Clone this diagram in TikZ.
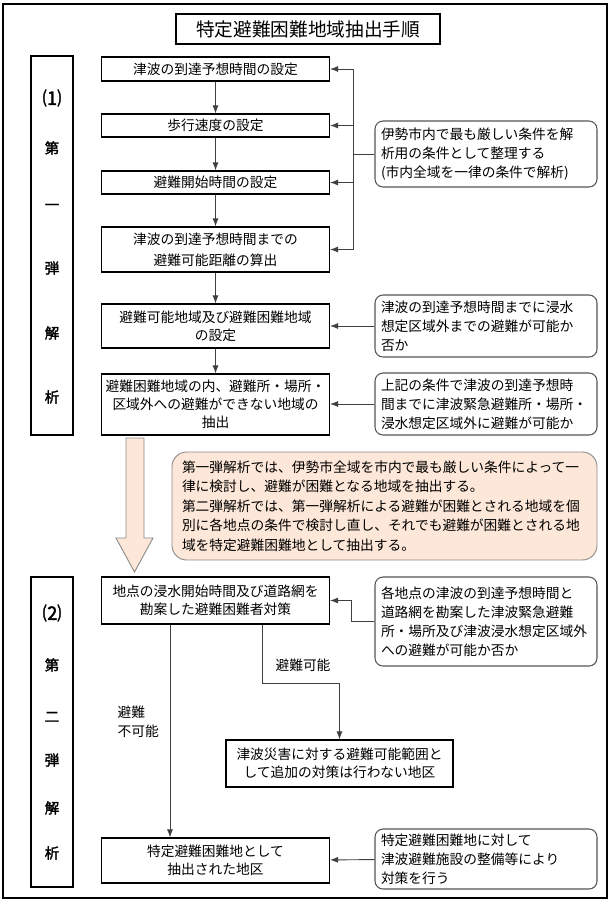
\documentclass[tikz,border=0pt]{standalone}
\usepackage{fontspec}
\setmainfont{Noto Sans CJK JP}[AutoFakeBold=2]
\usepackage{tikz}
\usetikzlibrary{calc,arrows.meta}
\definecolor{peach}{RGB}{253,231,216}
\definecolor{notegray}{RGB}{85,85,85}

\begin{document}
\begin{tikzpicture}[x=0.75pt,y=-0.75pt,
  every node/.style={font=\fontsize{10.3}{13.6}\selectfont},
  stepbox/.style={draw,line width=0.8pt,inner sep=0pt,align=center,minimum width=171pt},
  notebox/.style={draw=notegray,line width=0.8pt,rounded corners=6pt,inner xsep=4.5pt,inner ysep=0pt,
    text width=157.5pt,align=left,minimum height=#1,font=\fontsize{10.3}{14.2}\selectfont},
  phase/.style={draw,line width=0.8pt,minimum width=31.5pt,minimum height=#1},
  phaselbl/.style={font=\fontsize{10.8}{12}\selectfont\bfseries},
  phasenum/.style={font=\fontsize{14}{16}\selectfont\bfseries},
  flow/.style={draw=black!75,line width=0.7pt,-{Latex[length=6pt,width=4.5pt]}},
  link/.style={draw=black!75,line width=0.7pt}]
  \useasboundingbox (0,0) rectangle (611,900);
  \draw[line width=0.8pt] (3,4) rectangle (607,898);

  \node[draw,line width=0.8pt,minimum width=198pt,minimum height=22.5pt,font=\fontsize{14}{16}\selectfont] (ttl) at (308,29) {特定避難困難地域抽出手順};

  % first analysis
  \node[phase=284.25pt] (p1) at (52,245.5) {};
  \node[phasenum] (la0) at (52,98) {⑴};
  \foreach \t/\y [count=\i] in {第/148,一/207,弾/268,解/333,析/397}
    \node[phaselbl] (la\i) at (52,\y) {\t};

  \node[stepbox,minimum height=18pt] (b1) at (215.5,69) {津波の到達予想時間の設定};
  \node[stepbox,minimum height=17.25pt] (b2) at (215.5,125.5) {歩行速度の設定};
  \node[stepbox,minimum height=17.25pt] (b3) at (215.5,182.5) {避難開始時間の設定};
  \node[stepbox,minimum height=33.75pt] (b4) at (215.5,249.5) {津波の到達予想時間までの\\[2pt]避難可能距離の算出};
  \node[stepbox,minimum height=33pt] (b5) at (215.5,326) {避難可能地域及び避難困難地域\\の設定};
  \node[stepbox,minimum height=45.75pt] (b6) at (215.5,404.5) {避難困難地域の内、避難所・場所・\\区域外への避難ができない地域の\\抽出};

  \node[notebox=49.5pt] (c1) at (486,154) {伊勢市内で最も厳しい条件を解\\析用の条件として整理する\\(市内全域を一律の条件で解析)};
  \node[notebox=46.5pt] (c2) at (486,326) {津波の到達予想時間までに浸水\\想定区域外までの避難が可能か\\否か};
  \node[notebox=46.5pt] (c3) at (486,404) {上記の条件で津波の到達予想時\\間までに津波緊急避難所・場所・\\浸水想定区域外に避難が可能か};

  \coordinate (br) at (353,154);
  \draw[link] (c1.west) -- (br);
  \foreach \to in {b1,b2,b3,b4}
    \draw[flow] (br) |- (\to);
  \foreach \from/\to in {b1/b2,b2/b3,b3/b4,b4/b5,b5/b6}
    \draw[flow] (\from) -- (\to);
  \draw[flow] (c2) -- (b5);
  \draw[flow] (c3.west) -- (b6.east |- c3.west);

  % transition
  \draw[draw=black!45,line width=0.7pt,fill=peach] (126,438) -- (144,438) -- (144,538) -- (153,538)
    -- (134.5,572) -- (116,538) -- (126,538) -- cycle;
  \node[draw=black!45,fill=peach,line width=0.7pt,rounded corners=11pt,inner xsep=7.5pt,inner ysep=0pt,
    text width=303.75pt,align=left,minimum height=81pt,font=\fontsize{10.3}{14.6}\selectfont] (c4) at (384.5,506)
    {第一弾解析では、伊勢市全域を市内で最も厳しい条件によって一\\律に検討し、避難が困難となる地域を抽出する。\\第二弾解析では、第一弾解析による避難が困難とされる地域を個\\別に各地点の条件で検討し直し、それでも避難が困難とされる地\\域を特定避難困難地として抽出する。};

  % second analysis
  \node[phase=232.5pt] (p2) at (52,732) {};
  \node[phasenum] (lb0) at (52,613) {⑵};
  \foreach \t/\y [count=\i] in {第/665,二/717,弾/760,解/808,析/853}
    \node[phaselbl] (lb\i) at (52,\y) {\t};

  \node[stepbox,minimum height=35.25pt] (b7) at (215.5,600.5) {地点の浸水開始時間及び道路網を\\勘案した避難困難者対策};
  \node[stepbox,minimum width=170.25pt,minimum height=35.25pt] (b8) at (339.5,763.5) {津波災害に対する避難可能範囲と\\して追加の対策は行わない地区};
  \node[stepbox,minimum height=33.75pt] (b9) at (215.5,860.5) {特定避難困難地として\\抽出された地区};

  \node[notebox=66.75pt] (c5) at (486,621.5) {各地点の津波の到達予想時間と\\道路網を勘案した津波緊急避難\\所・場所及び津波浸水想定区域外\\への避難が可能か否か};
  \node[notebox=45pt] (c6) at (486,859) {特定避難困難地に対して\\津波避難施設の整備等により\\対策を行う};

  \node (t1) at (303,665) {避難可能};
  \node[anchor=west,align=left,font=\fontsize{10.3}{14.2}\selectfont] (t2) at (113,722) {避難\\不可能};

  \draw[flow] (c5.west) -- ++(-23,0) |- (b7.east);
  \draw[flow] ($(b7.south)+(46.5,0)$) -- ++(0,59) -| (b8.north);
  \draw[flow] ($(b7.south)+(-45.5,0)$) -- ($(b9.north)+(-45.5,0)$);
  \draw[flow] (c6) -- (b9);

\end{tikzpicture}
\end{document}
